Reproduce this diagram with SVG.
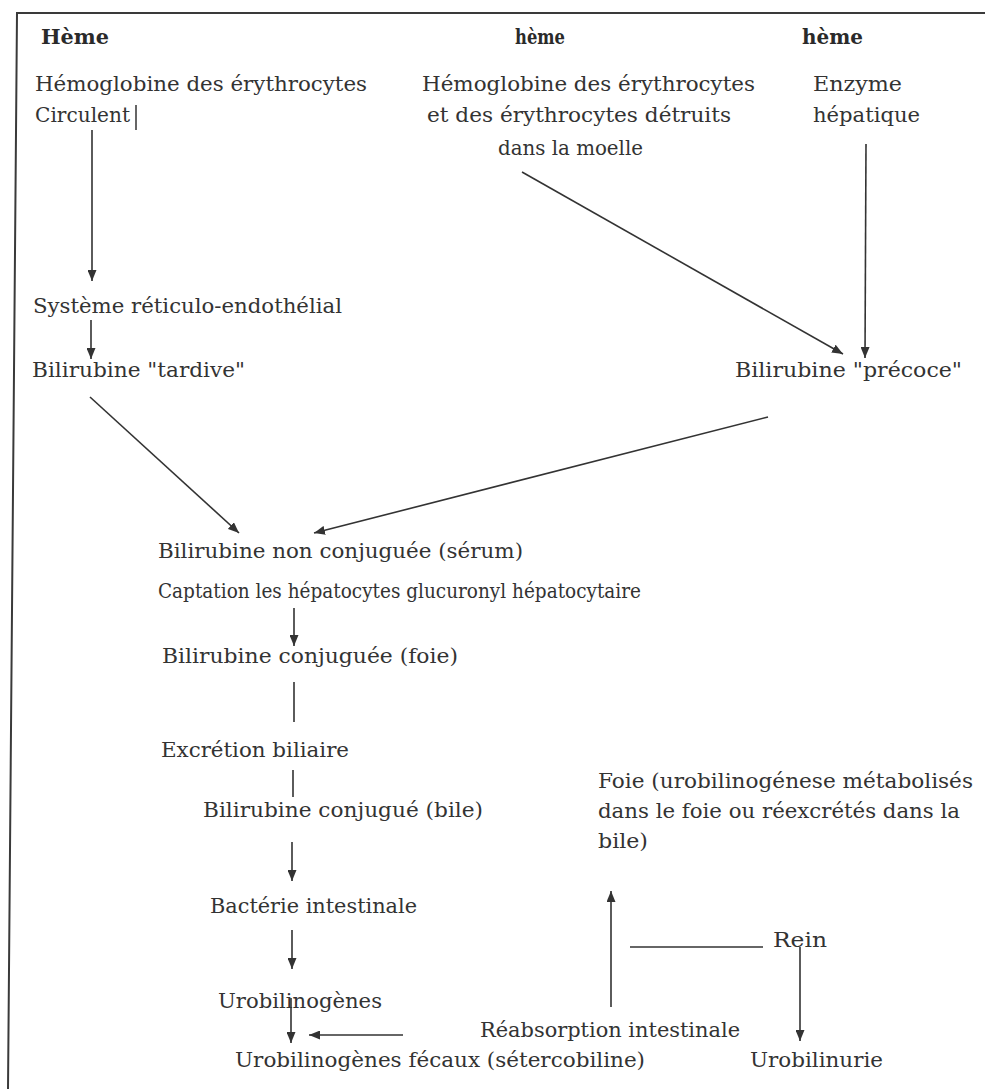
<svg xmlns="http://www.w3.org/2000/svg" width="985" height="1089" viewBox="0 0 985 1089">
<style>
text{font-family:"DejaVu Serif","Liberation Serif",serif;font-size:20.5px;fill:#333;}
text.b{font-weight:bold;fill:#2a2a2a;font-size:20px;}
.c line{stroke:#333;stroke-width:1.6;fill:none;}
.c line.a{marker-end:url(#ah);}
.frame{stroke:#3a3a3a;stroke-width:2;fill:none;}
</style>
<defs>
<marker id="ah" markerUnits="userSpaceOnUse" markerWidth="12" markerHeight="9" refX="11" refY="4.5" orient="auto">
<path d="M0,0 L11,4.5 L0,9 z" fill="#333"/>
</marker>
</defs>
<rect width="985" height="1089" fill="#fff"/>
<polyline class="frame" points="985,13 17,13 8,1089"/>

<g id="n-heme1"><text class="b" x="41" y="44" textLength="68" lengthAdjust="spacingAndGlyphs">Hème</text></g>
<g id="n-heme2"><text class="b" x="515" y="44" textLength="50" lengthAdjust="spacingAndGlyphs">hème</text></g>
<g id="n-heme3"><text class="b" x="802" y="44" textLength="61" lengthAdjust="spacingAndGlyphs">hème</text></g>

<g id="n-hemo1">
<text x="35" y="91" textLength="332" lengthAdjust="spacingAndGlyphs">Hémoglobine des érythrocytes</text>
<text x="35" y="122" textLength="95" lengthAdjust="spacingAndGlyphs">Circulent</text>
<line x1="136" y1="105" x2="136" y2="130" stroke="#333" stroke-width="1.5"/>
</g>
<g id="n-hemo2">
<text x="422" y="91" textLength="333" lengthAdjust="spacingAndGlyphs">Hémoglobine des érythrocytes</text>
<text x="427" y="122" textLength="304" lengthAdjust="spacingAndGlyphs">et des érythrocytes détruits</text>
<text x="498" y="155" textLength="145" lengthAdjust="spacingAndGlyphs">dans la moelle</text>
</g>
<g id="n-enzyme">
<text x="813" y="91" textLength="89" lengthAdjust="spacingAndGlyphs">Enzyme</text>
<text x="813" y="122" textLength="107" lengthAdjust="spacingAndGlyphs">hépatique</text>
</g>
<g id="n-systeme"><text x="33" y="313" textLength="309" lengthAdjust="spacingAndGlyphs">Système réticulo-endothélial</text></g>
<g id="n-tardive"><text x="32" y="377" textLength="213" lengthAdjust="spacingAndGlyphs">Bilirubine "tardive"</text></g>
<g id="n-precoce"><text x="735" y="377" textLength="227" lengthAdjust="spacingAndGlyphs">Bilirubine "précoce"</text></g>
<g id="n-nonconj">
<text x="158" y="558" textLength="365" lengthAdjust="spacingAndGlyphs">Bilirubine non conjuguée (sérum)</text>
<text x="158" y="598" textLength="483" lengthAdjust="spacingAndGlyphs">Captation les hépatocytes glucuronyl hépatocytaire</text>
</g>
<g id="n-conjfoie"><text x="162" y="663" textLength="296" lengthAdjust="spacingAndGlyphs">Bilirubine conjuguée (foie)</text></g>
<g id="n-excretion"><text x="161" y="757" textLength="188" lengthAdjust="spacingAndGlyphs">Excrétion biliaire</text></g>
<g id="n-conjbile"><text x="203" y="817" textLength="280" lengthAdjust="spacingAndGlyphs">Bilirubine conjugué (bile)</text></g>
<g id="n-bacterie"><text x="210" y="913" textLength="207" lengthAdjust="spacingAndGlyphs">Bactérie intestinale</text></g>
<g id="n-urobil"><text x="218" y="1008" textLength="164" lengthAdjust="spacingAndGlyphs">Urobilinogènes</text></g>
<g id="n-fecaux"><text x="235" y="1067" textLength="410" lengthAdjust="spacingAndGlyphs">Urobilinogènes fécaux (sétercobiline)</text></g>
<g id="n-reabs"><text x="480" y="1037" textLength="260" lengthAdjust="spacingAndGlyphs">Réabsorption intestinale</text></g>
<g id="n-foie">
<text x="598" y="788" textLength="375" lengthAdjust="spacingAndGlyphs">Foie (urobilinogénese métabolisés</text>
<text x="598" y="818" textLength="362" lengthAdjust="spacingAndGlyphs">dans le foie ou réexcrétés dans la</text>
<text x="598" y="848" textLength="50" lengthAdjust="spacingAndGlyphs">bile)</text>
</g>
<g id="n-rein"><text x="773" y="947" textLength="54" lengthAdjust="spacingAndGlyphs">Rein</text></g>
<g id="n-urobilinurie"><text x="750" y="1067" textLength="133" lengthAdjust="spacingAndGlyphs">Urobilinurie</text></g>

<g id="connectors" class="c">
<line class="a" x1="92" y1="130" x2="92" y2="281"/>
<line class="a" x1="91" y1="320" x2="91" y2="359"/>
<line class="a" x1="522" y1="172" x2="843" y2="354"/>
<line class="a" x1="866" y1="144" x2="865" y2="358"/>
<line class="a" x1="90" y1="397" x2="239" y2="533"/>
<line class="a" x1="768" y1="417" x2="314" y2="533"/>
<line class="a" x1="294" y1="608" x2="294" y2="646"/>
<line x1="294" y1="682" x2="294" y2="722"/>
<line x1="293" y1="770" x2="293" y2="797"/>
<line class="a" x1="292" y1="842" x2="292" y2="881"/>
<line class="a" x1="292" y1="930" x2="292" y2="969"/>
<line class="a" x1="291" y1="998" x2="291" y2="1043"/>
<line class="a" x1="403" y1="1035" x2="309" y2="1035"/>
<line class="a" x1="611" y1="1007" x2="611" y2="891"/>
<line x1="630" y1="947" x2="763" y2="947"/>
<line class="a" x1="800" y1="947" x2="800" y2="1041"/>
</g>
</svg>
